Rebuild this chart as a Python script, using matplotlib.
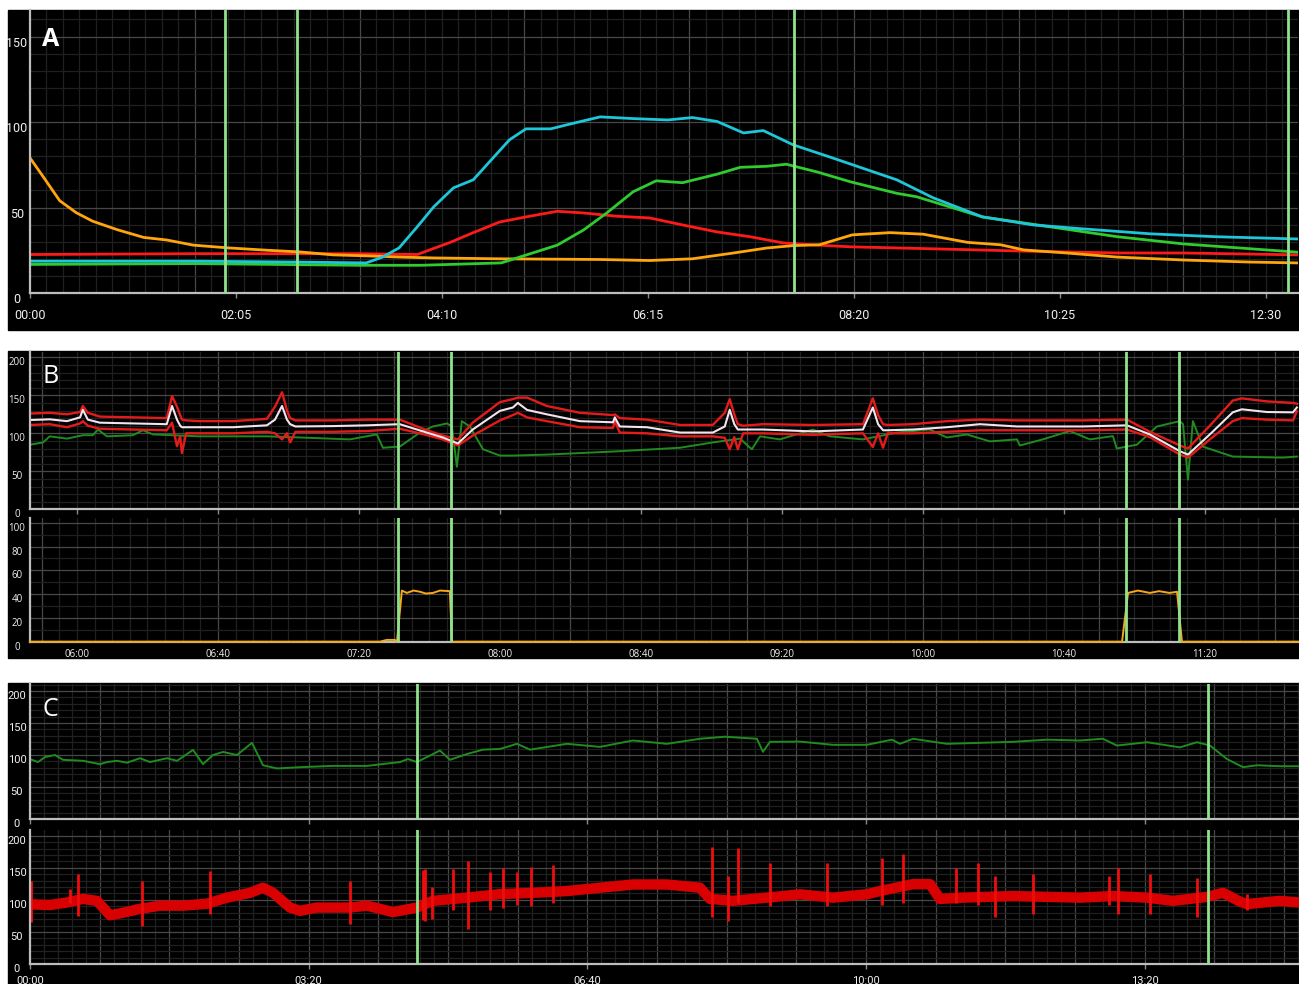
import matplotlib
matplotlib.use("Agg")
import matplotlib.pyplot as plt
from matplotlib.patches import Rectangle
import numpy as np

W, H = 1299, 984

# ---- panel A (minutes from 00:00) ----
a_orange_t = [0, 8, 18, 28, 38, 53, 69, 83, 99, 120, 144, 164, 184, 205, 225, 245, 285, 346, 376,
              402, 427, 447, 463, 479, 499, 522, 542, 569, 589, 603, 629, 660, 700, 740, 769]
a_orange = [79, 68, 54, 47, 42, 37, 32.5, 31, 28, 26.4, 25, 24, 22.3, 21.7, 21, 20.5, 20, 19.6, 19,
            20, 23.4, 26.3, 27.7, 28.2, 34, 35.3, 34.4, 29.6, 28.2, 25.2, 23.4, 21, 19.3, 18.1, 17.6]
a_red_t = [0, 100, 200, 235, 255, 269, 285, 301, 320, 336, 356, 376, 396, 417, 437, 457, 478, 498,
           524, 550, 599, 660, 700, 769]
a_red = [22.5, 23, 23, 22.5, 29.6, 35.3, 41.5, 44.5, 47.8, 46.8, 44.9, 43.9, 39.8, 35.7, 32.9, 29.3,
         28, 27, 26.4, 25.8, 24.6, 23.4, 23.4, 22.3]
a_cyan_t = [0, 100, 160, 204, 214, 224, 235, 245, 257, 269, 281, 291, 301, 316, 326, 346, 366, 387,
            402, 417, 433, 445, 463, 487, 508, 526, 548, 578, 609, 639, 680, 720, 769]
a_cyan = [18.6, 18.6, 18.1, 17.6, 21, 26.4, 38.7, 50.4, 61.5, 66.2, 79, 89.6, 96, 96, 98.4, 103, 102,
          101.2, 102.6, 100.3, 93.6, 95, 86.7, 79, 72.1, 66.2, 55.7, 44.5, 39.8, 37.5, 34.6, 32.9, 31.6]
a_green_t = [0, 100, 200, 237, 286, 305, 320, 336, 350, 366, 380, 396, 417, 431, 447, 459, 478, 498,
             526, 538, 578, 619, 660, 700, 769]
a_green = [16.7, 17.2, 16.2, 16.2, 17.6, 23.4, 28, 36.9, 46.8, 59.2, 65.6, 64.5, 69.5, 73.5, 74.1, 75.3,
           70.7, 65, 58.3, 56.3, 44.5, 38.7, 32.9, 28.7, 23.9]
a_events = [118.3, 162, 463.6, 763.3]
a_xticks = [0, 125, 250, 375, 500, 625, 750]
a_xlabels = ["00:00", "02:05", "04:10", "06:15", "08:20", "10:25", "12:30"]
a_yticks = [0, 50, 100, 150]

# ---- panel B (minutes from 00:00) ----
b_t = [346.7, 352.3, 357.2, 360.9, 361.7, 363.1, 366.5, 375.9, 385.5, 387.0, 388.4, 389.3, 389.8,
       391.0, 394.9, 404.3, 413.9, 416.2, 418.2, 419.6, 420.5, 422.0, 432.6, 442.3, 451.6, 458.2,
       463.8, 468.1, 472.3, 480.0, 483.7, 485.1, 487.7, 493.3, 502.7, 512.1, 512.6, 514.0, 521.7,
       531.1, 540.4, 543.8, 545.2, 546.5, 547.5, 549.0, 554.6, 568.8, 583.0, 585.8, 587.3, 588.7,
       590.0, 597.2, 606.8, 616.2, 626.7, 645.4, 657.9, 664.4, 672.9, 675.2, 681.4, 687.9, 690.5,
       697.6, 705.0, 706.1]
b_mean = [117.5, 118.4, 116, 121, 131, 118, 114, 113, 112, 136, 118, 110, 108,
          108, 108, 108, 110.5, 118, 136, 118, 112, 109, 109.5, 110.5, 112, 102.5,
          94.5, 86.6, 105, 129.5, 134, 140, 130.8, 125, 116, 114.5, 121, 109, 108,
          101, 101, 109, 131, 112, 105, 105, 105, 102.5, 105, 134, 112, 104,
          104, 105, 108, 112, 109, 109, 110.5, 98.5, 76.4, 72, 98.5, 127.6, 131.6,
          128, 127.6, 134]
b_high = [126, 127, 125, 128, 136, 127, 122, 121, 120, 149, 135, 124, 118,
          117, 116, 116, 119, 135, 154, 130, 120, 117, 117, 118, 118, 106,
          97, 92, 114, 141, 145, 147, 147, 136, 127, 124, 125, 120, 118,
          111, 111, 127, 145, 125, 112, 110, 112, 111, 112, 146, 124, 112,
          111, 112, 116, 118, 117, 117, 118, 102, 84, 80, 110, 143, 146,
          142, 140, 139]
b_low = [111, 112, 108, 113, 116, 110, 106, 105, 104, 114, 83, 96, 74,
         100, 100, 100, 102, 100, 92, 100, 88, 102, 102, 103, 106, 99,
         92, 84, 97, 117, 124, 127, 121, 116, 108, 107, 116, 101, 100,
         96, 96, 94, 79, 95, 79, 100, 100, 98, 100, 82, 100, 81,
         100, 100, 102, 104, 104, 104, 105, 95, 72, 68, 92, 116, 120,
         118, 117, 129]
b_green_t = [346.7, 350.4, 352.3, 357.2, 361.7, 364.5, 366.0, 368.5, 375.9, 378.7, 381.6, 394.9,
             413.9, 423.3, 437.4, 445.1, 446.8, 451.6, 457.3, 461.0, 465.0, 466.4, 467.8, 469.2,
             471.5, 475.2, 480.0, 483.7, 493.3, 512.1, 531.1, 540.4, 548.1, 551.5, 553.8, 559.4,
             568.8, 573.6, 583.0, 592.6, 602.0, 606.8, 612.5, 619.0, 626.7, 627.5, 634.0, 641.7,
             647.4, 653.9, 655.0, 660.7, 666.4, 672.9, 673.8, 675.2, 676.6, 679.4, 687.9, 702.1, 706.1]
b_green = [85, 88, 96, 93, 97.5, 97.5, 105, 96, 97.5, 104, 98.5, 96,
           96, 94.5, 92, 98.5, 81, 82.5, 101, 109, 113, 109, 56, 116,
           109, 79, 70.7, 70.7, 72, 76, 81, 88, 93, 79, 96, 92,
           105, 96, 92, 101, 105, 94.5, 98.5, 89.4, 92, 84, 92, 103,
           92, 96.3, 80, 85, 109, 116, 112, 39, 116, 82.5, 69.4, 68, 69.4]
b_infusion_t = [346.7, 446.0, 447.9, 450.2, 450.8, 452.2, 453.6, 455.5, 457.3, 459.0, 461.0, 463.0,
                465.8, 466.4, 656.5, 658.2, 661.0, 664.4, 667.0, 670.0, 672.1, 673.5, 706.7]
b_infusion = [0, 0, 1.5, 1.5, 0, 43, 41, 43, 42, 40.5, 41, 43,
              42.5, 0, 0, 41, 43, 41, 42.5, 41, 42, 0, 0]
b_events = [451.1, 466.1, 657.6, 672.6]
b_xticks = [360, 400, 440, 480, 520, 560, 600, 640, 680]
b_xlabels = ["06:00", "06:40", "07:20", "08:00", "08:40", "09:20", "10:00", "10:40", "11:20"]
b_yticks_top = [0, 50, 100, 150, 200]
b_yticks_bottom = [0, 20, 40, 60, 80, 100]

# ---- panel C (minutes from 00:00) ----
c_green_t = [0, 5.7, 10.8, 17.9, 23.7, 38.0, 50.2, 55.3, 62.4, 69.6, 78.9, 86.1, 98.3, 105.5,
             117.0, 124.1, 131.3, 138.5, 148.5, 159.3, 167.2, 177.3, 193.8, 217.4, 241.8, 265.5,
             271.3, 277.7, 294.2, 301.4, 313.6, 325.1, 337.3, 349.5, 358.8, 385.4, 409.0, 432.7,
             457.1, 480.8, 498.7, 521.7, 526.0, 531.0, 552.6, 576.2, 600.6, 618.6, 624.3, 633.7,
             658.1, 705.4, 729.8, 753.5, 770.0, 780.0, 801.6, 825.3, 837.5, 846.8, 859.0, 870.5,
             880.6, 897.0, 910.7]
c_green = [93.7, 89, 96.8, 100, 92.5, 91, 85.7, 89, 91, 88, 95, 89, 95, 91,
           108, 85.7, 100, 104.8, 100, 119, 84, 79, 81, 83, 83, 89,
           93.7, 89, 107, 92.5, 101.6, 108.4, 109.5, 117.5, 108.4, 117.5, 112.7, 122.7,
           117.5, 125.4, 128.6, 125.4, 105, 120.6, 121, 115.9, 115.9, 124, 117.5, 125.4,
           117.5, 120.6, 124, 122.7, 125.4, 114.8, 120, 112, 120, 114.8, 93.7, 81,
           84, 82.5, 82.5]
c_bp_t = [0, 14.4, 26.6, 38.0, 48.1, 57.4, 64.6, 78.9, 93.3, 109.8, 127.0, 141.4, 157.9, 167.2,
          174.4, 186.6, 193.8, 206.0, 229.6, 241.8, 260.5, 277.7, 289.2, 313.6, 337.3, 361.0,
          385.4, 409.0, 432.7, 457.1, 480.8, 488.0, 504.5, 528.9, 552.6, 576.2, 600.6, 610.0,
          633.7, 645.9, 653.0, 669.5, 705.4, 753.5, 777.2, 801.6, 820.2, 844.6, 856.1, 868.3,
          873.3, 897.0, 910.7]
c_bp = [93, 92, 96, 101.5, 98.5, 76, 79, 86, 91, 91, 94, 103.5, 111, 119,
        111, 88, 83, 88, 88, 91, 81, 88, 98.5, 103.5, 109, 111,
        113.8, 118.9, 124, 124, 119, 101.5, 98.5, 103.5, 108.7, 103.5, 108.7, 113.8,
        124.6, 124.6, 101.5, 103.5, 106, 103.5, 106, 103.5, 98.5, 104.6, 111, 97.4,
        93.4, 98.5, 96]
c_spike_t = [0.7, 28.7, 34.4, 80.4, 129.2, 229.6, 282.0, 283.5, 288.5, 303.6, 314.3, 330.1, 339.4,
             349.5, 359.5, 375.3, 489.4, 500.9, 508.1, 531.0, 571.9, 611.4, 626.5, 664.5, 680.3,
             692.5, 719.8, 774.3, 780.8, 803.7, 837.5, 873.3]
c_spike_top = [129, 117, 140, 129, 144.6, 129, 146, 147.7, 120, 147.7, 160, 143.5, 149.7,
               143.5, 152, 153.8, 183, 137, 180.5, 157, 157, 165, 170.8, 149.7, 157,
               137, 140, 137, 149.7, 140, 134, 109.2]
c_spike_bottom = [65, 95, 75, 60, 78, 63, 68, 67.7, 70, 85, 55, 85, 88,
                  92, 90, 95, 74, 67.7, 95, 90, 90, 92, 95, 95, 92,
                  72.8, 78, 92, 78, 78, 72.8, 84]
c_events = [277.7, 845.4]
c_xticks = [0, 200, 400, 600, 800]
c_xlabels = ["00:00", "03:20", "06:40", "10:00", "13:20"]
c_yticks = [0, 50, 100, 150, 200]

EVENT = '#90e38c'
SPINE = '#bdbdbd'
TXT = '#f0f0f0'
GRID_MINOR = '#202020'
GRID_MAJOR = '#484848'


def px_axes(fig, left, top, right, bottom):
    return fig.add_axes([left / W, 1 - bottom / H, (right - left) / W, (bottom - top) / H])


def panel_bg(fig, top, bottom):
    fig.patches.append(Rectangle((8 / W, 1 - bottom / H), (W - 8) / W, (bottom - top) / H,
                                 transform=fig.transFigure, color='black', zorder=-5))


def setup(ax, xlim, ylim, xgrid, ygrid, yticks, font, size, xticks=None, xlabels=None):
    ax.set_facecolor('black')
    ax.set_xlim(xlim)
    ax.set_ylim(ylim)
    for side in ('top', 'right'):
        ax.spines[side].set_visible(False)
    for side in ('left', 'bottom'):
        ax.spines[side].set_color(SPINE)
        ax.spines[side].set_linewidth(1.6)
    # grid: (minor step, bright step)
    xs, xb = xgrid
    for x in np.arange(0, xlim[1], xs):
        if x <= xlim[0] + 0.5:
            continue
        bright = abs(x / xb - round(x / xb)) < 1e-6
        ax.axvline(x, color=GRID_MAJOR if bright else GRID_MINOR, lw=0.9, zorder=0.5)
    ys, yb = ygrid
    for y in np.arange(ys, ylim[1], ys):
        bright = abs(y / yb - round(y / yb)) < 1e-6
        ax.axhline(y, color=GRID_MAJOR if bright else GRID_MINOR, lw=0.9, zorder=0.5)
    ax.set_yticks(yticks)
    ax.set_yticklabels([str(v) for v in yticks])
    ax.tick_params(axis='y', length=0, pad=9.4, labelcolor=TXT)
    for lab in ax.get_yticklabels():
        lab.set_fontfamily(font)
        lab.set_fontsize(size)
        lab.set_horizontalalignment('center')
        lab.set_verticalalignment('top')
    if xticks is not None:
        ax.set_xticks(xticks)
    if xlabels is not None:
        ax.set_xticklabels(xlabels, fontfamily=font, fontsize=size, color=TXT)
    else:
        ax.set_xticklabels([])
    ax.tick_params(axis='x', length=3.5, width=1, color='#8a8a8a', direction='out')


fig = plt.figure(figsize=(W / 100, H / 100), dpi=100)
fig.patch.set_facecolor('white')
panel_bg(fig, 10, 330)
panel_bg(fig, 351, 658)
panel_bg(fig, 683, 984)

# ---- A ----
axA = px_axes(fig, 30, 10, 1298, 293)
setup(axA, (0, 769.5), (0, 165.5), (10, 100), (10, 50), a_yticks, 'Roboto', 9, a_xticks, a_xlabels)
axA.tick_params(axis='x', pad=8)
axA.plot(a_red_t, a_red, color='#ff1a1a', lw=2.0, zorder=2)
axA.plot(a_orange_t, a_orange, color='#ffa60d', lw=2.0, zorder=2.1)
axA.plot(a_green_t, a_green, color='#2fcb2f', lw=2.0, zorder=2.2)
axA.plot(a_cyan_t, a_cyan, color='#1dc6d8', lw=2.0, zorder=2.3)
for x in a_events:
    axA.axvline(x, color=EVENT, lw=2, zorder=4)
fig.text(51 / W, 1 - 40 / H, 'A', color='white', fontsize=18, fontweight='bold',
         ha='center', va='center', family='Open Sans')

# ---- B ----
xlimB = (346.7, 706.7)
axB1 = px_axes(fig, 30, 352, 1299, 509.3)
setup(axB1, xlimB, (0, 207), (5, 50), (10, 50), b_yticks_top, 'Open Sans', 7, b_xticks)
axB1.plot(b_green_t, b_green, color='#1f8c1f', lw=1.4, zorder=2)
axB1.plot(b_t, b_high, color='#e41b1b', lw=1.7, zorder=2.1)
axB1.plot(b_t, b_low, color='#e41b1b', lw=1.7, zorder=2.1)
axB1.plot(b_t, b_mean, color='#f3e3ec', lw=1.5, zorder=2.2)
for x in b_events:
    axB1.axvline(x, color=EVENT, lw=2, zorder=4)

axB2 = px_axes(fig, 30, 518, 1299, 641.7)
setup(axB2, xlimB, (0, 104), (5, 50), (10, 20), b_yticks_bottom, 'Open Sans', 7, b_xticks, b_xlabels)
axB2.tick_params(axis='x', length=0, pad=5)
axB2.plot(b_infusion_t, b_infusion, color='#f6a81a', lw=1.4, zorder=3, clip_on=False)
for x in b_events:
    axB2.axvline(x, color=EVENT, lw=2, zorder=4)
fig.text(51 / W, 1 - 377 / H, 'B', color='white', fontsize=18, ha='center', va='center',
         family='Open Sans')

# ---- C ----
xlimC = (0, 910.7)
axC1 = px_axes(fig, 30, 684, 1299, 819)
setup(axC1, xlimC, (0, 211), (10, 50), (10, 50), c_yticks, 'Roboto', 8, c_xticks)
axC1.plot(c_green_t, c_green, color='#1f8c1f', lw=1.4, zorder=2)
for x in c_events:
    axC1.axvline(x, color=EVENT, lw=2, zorder=4)

axC2 = px_axes(fig, 30, 830, 1299, 964)
setup(axC2, xlimC, (0, 209), (10, 50), (10, 50), c_yticks, 'Roboto', 8, c_xticks, c_xlabels)
axC2.tick_params(axis='x', pad=5.5)
axC2.plot(c_bp_t, c_bp, color='#d80000', lw=7.5, solid_joinstyle='round', zorder=2)
axC2.vlines(c_spike_t, c_spike_bottom, c_spike_top, color='#ee0d0d', lw=2, zorder=2.1)
for x in c_events:
    axC2.axvline(x, color=EVENT, lw=2, zorder=4)
fig.text(50 / W, 1 - 709 / H, 'C', color='white', fontsize=18, ha='center', va='center',
         family='Open Sans')

fig.savefig('out.png', dpi=100, facecolor='white')
